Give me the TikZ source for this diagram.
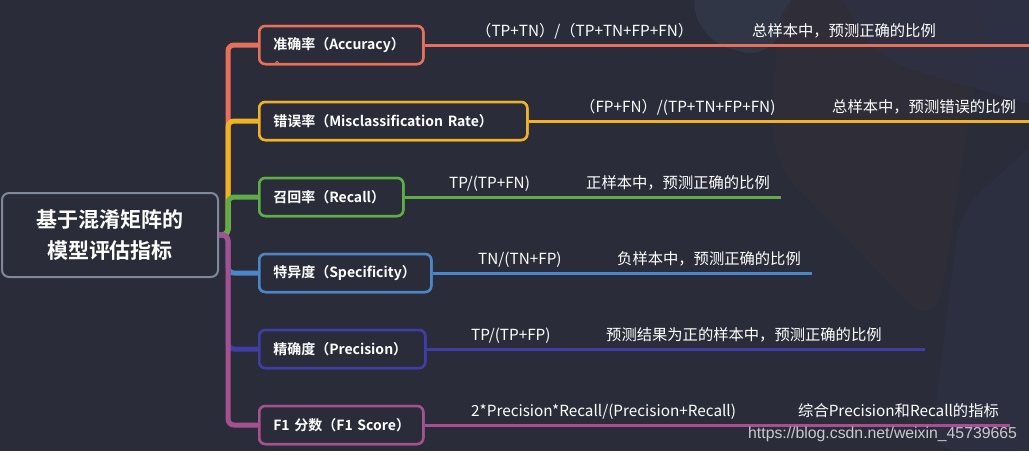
\documentclass[tikz,border=0pt]{standalone}
\usepackage{fontspec}
\setmainfont{Noto Sans CJK SC}[BoldFont={Noto Sans CJK SC Bold}]
\newfontfamily\wmfont{Liberation Sans}
\definecolor{bg}{HTML}{2A2D39}
\definecolor{rootgray}{HTML}{7F8898}
\definecolor{cred}{HTML}{E8705A}
\definecolor{cyellow}{HTML}{F0B323}
\definecolor{cgreen}{HTML}{5DAE47}
\definecolor{cblue}{HTML}{4A86C8}
\definecolor{cindigo}{HTML}{3F3EA6}
\definecolor{cpink}{HTML}{A5508F}
\definecolor{deco1}{HTML}{374054}
\definecolor{deco2}{HTML}{302E38}
\definecolor{deco3}{HTML}{2F3348}
\tikzset{
  rootbox/.style={draw=rootgray, line width=2pt, rounded corners=7pt, fill=bg,
    minimum width=216pt, minimum height=84pt, align=center, text=white,
    font=\fontsize{21}{31}\selectfont\bfseries},
  mbox/.style={draw=#1, line width=2.5pt, rounded corners=6pt, fill=bg, anchor=west,
    minimum height=38pt, inner xsep=14pt, inner ysep=0pt, align=left, text=white,
    font=\fontsize{14}{16}\selectfont\bfseries},
  spine/.style={draw=#1, line width=5pt, rounded corners=6pt},
  rline/.style={draw=#1, line width=3pt},
  ftext/.style={anchor=base west, text=white, inner sep=0pt,
    font=\fontsize{15.3}{17}\selectfont},
}
\begin{document}
\begin{tikzpicture}[x=1pt,y=-1pt]
\useasboundingbox (0,0) rectangle (1029,451);
\fill[bg] (0,0) rectangle (1029,451);
% subtle background decoration
\fill[deco1, opacity=0.5, rounded corners=30pt] (690,-20) -- (800,-20) -- (770,60) -- (700,40) -- cycle;
\fill[deco2, opacity=0.7, rounded corners=40pt] (780,-10) -- (990,-10) -- (935,330) -- (770,160) -- cycle;
\fill[deco3, opacity=0.6, rounded corners=30pt] (830,-20) -- (1050,-20) -- (1050,110) -- (880,60) -- cycle;
\fill[deco3, opacity=0.4, rounded corners=30pt] (960,210) -- (1050,130) -- (1050,451) -- (930,451) -- cycle;

% root
\node[rootbox] (root) at (110,235) {基于混淆矩阵的\\模型评估指标};
\coordinate (jn) at (228,235);

% branch boxes
\node[mbox=cred, text width=136pt] (acc) at (258,45) {\mbox{准确率（Accuracy）}};
\node[mbox=cyellow, text width=240pt] (mis) at (258,121) {\mbox{错误率（Misclassification Rate）}};
\node[mbox=cgreen, text width=116pt] (rec) at (258,197) {\mbox{召回率（Recall）}};
\node[mbox=cblue, text width=144pt] (spe) at (258,273) {\mbox{特异度（Specificity）}};
\node[mbox=cindigo, text width=138pt] (pre) at (258,349) {\mbox{精确度（Precision）}};
\node[mbox=cpink, text width=136pt] (f1) at (258,425) {\mbox{F1 分数（F1 Score）}};

% spine connectors
\draw[spine=cred] (root.east) -- (jn) -- (jn |- acc.west) -- (acc.west);
\draw[spine=cyellow] (root.east) -- (jn) -- (jn |- mis.west) -- (mis.west);
\draw[spine=cgreen] (root.east) -- (jn) -- (jn |- rec.west) -- (rec.west);
\draw[spine=cblue] (root.east) -- (jn) -- (jn |- spe.west) -- (spe.west);
\draw[spine=cindigo] (root.east) -- (jn) -- (jn |- pre.west) -- (pre.west);
\draw[spine=cpink] (root.east) -- (jn) -- (jn |- f1.west) -- (f1.west);

% redraw boxes over connector ends
\node[mbox=cred, text width=136pt] at (258,45) {\mbox{准确率（Accuracy）}};
\node[mbox=cyellow, text width=240pt] at (258,121) {\mbox{错误率（Misclassification Rate）}};
\node[mbox=cgreen, text width=116pt] at (258,197) {\mbox{召回率（Recall）}};
\node[mbox=cblue, text width=144pt] at (258,273) {\mbox{特异度（Specificity）}};
\node[mbox=cindigo, text width=138pt] at (258,349) {\mbox{精确度（Precision）}};
\node[mbox=cpink, text width=136pt] at (258,425) {\mbox{F1 分数（F1 Score）}};
\draw[cred, line width=0.7pt] (277,62.5) circle (1.4pt);

% right lines
\coordinate (accE) at (1029,45);
\coordinate (misE) at (1029,121);
\coordinate (recE) at (781,197);
\coordinate (speE) at (812,273);
\coordinate (preE) at (925,349);
\coordinate (f1E) at (1010,425);
\draw[rline=cred] (acc.east) -- (accE);
\draw[rline=cyellow] (mis.east) -- (misE);
\draw[rline=cgreen] (rec.east) -- (recE);
\draw[rline=cblue] (spe.east) -- (speE);
\draw[rline=cindigo] (pre.east) -- (preE);
\draw[rline=cpink] (f1.east) -- (f1E);

% formulas and descriptions
\node[ftext] (accF) at (476,36) {（TP+TN）/（TP+TN+FP+FN）};
\node[ftext] (accD) at (752,36) {总样本中，预测正确的比例};
\node[ftext] (misF) at (580,112) {（FP+FN）/(TP+TN+FP+FN)};
\node[ftext] (misD) at (832,112) {总样本中，预测错误的比例};
\node[ftext] (recF) at (449,188) {TP/(TP+FN)};
\node[ftext] (recD) at (586,188) {正样本中，预测正确的比例};
\node[ftext] (speF) at (478,264) {TN/(TN+FP)};
\node[ftext] (speD) at (617,264) {负样本中，预测正确的比例};
\node[ftext] (preF) at (471,340) {TP/(TP+FP)};
\node[ftext] (preD) at (606,340) {预测结果为正的样本中，预测正确的比例};
\node[ftext] (f1F) at (471,416) {2*Precision*Recall/(Precision+Recall)};
\node[ftext] (f1D) at (798,416) {综合Precision和Recall的指标};
\node[anchor=base west, inner sep=0pt, text=white!75!bg, font=\wmfont\fontsize{15.8}{17}\selectfont] (wm) at (748,438) {https://blog.csdn.net/weixin\_45739665};
\end{tikzpicture}
\end{document}
